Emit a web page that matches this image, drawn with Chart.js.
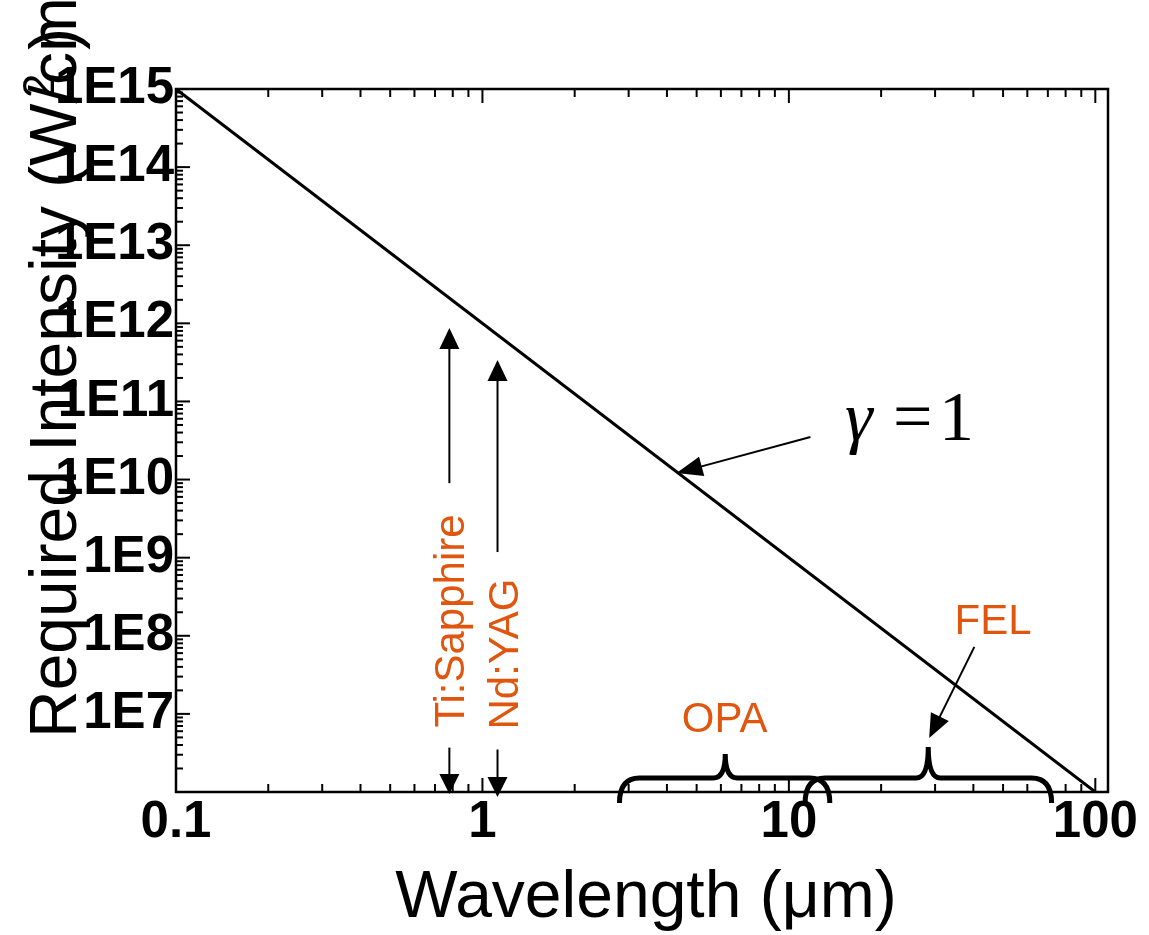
<!DOCTYPE html>
<html><head><meta charset="utf-8">
<script src="https://cdn.jsdelivr.net/npm/chart.js@4.4.1/dist/chart.umd.min.js"></script>
<style>html,body{margin:0;padding:0;background:#fff;}canvas{display:block;}</style>
</head><body>
<canvas id="c" width="1149" height="935"></canvas>
<script>
// ---- data ----
const wavelength = [0.1, 100];
const intensity = [1e15, 1e6];
const xTickValues = [0.1, 1, 10, 100];
const xTickLabels = ['0.1', '1', '10', '100'];
const yTickValues = [1e7, 1e8, 1e9, 1e10, 1e11, 1e12, 1e13, 1e14, 1e15];
const yTickLabels = ['1E7', '1E8', '1E9', '1E10', '1E11', '1E12', '1E13', '1E14', '1E15'];
const xRange = [0.1, 110];
const yRange = [1e6, 1e15];

// annotation anchors (data coordinates)
const laserNames = ['Ti:Sapphire', 'Nd:YAG'];
const laserWavelength = [0.78, 1.12];
const laserArrowTip = [8.7e11, 3.4e11];
const laserArrowBase = [9.0e9, 1.18e9];
const laserLowerStart = [3.7e6, 3.5e6];
const bandNames = ['OPA', 'FEL'];
const bandStart = [2.8, 11.3];
const bandMid = [6.2, 28.5];
const bandEnd = [13.6, 72];
const gammaArrowFrom = [11.76, 3.5e10];
const gammaArrowTo = [4.3, 1.21e10];
const gammaLabelAt = [14.8, 3.2e10];
const felArrowFrom = [40.3, 7.2e7];
const felArrowTo = [28.7, 4.9e6];
const felLabelAt = [46.4, 1.05e8];
const opaLabelAt = [6.17, 5.9e6];

const ORANGE = '#E0560E';
const SANS = "'Liberation Sans', Arial, sans-serif";
const SERIF = "'Liberation Serif', 'Times New Roman', serif";

function findLabel(vals, labels, v) {
  for (let i = 0; i < vals.length; i++) {
    if (Math.abs(Math.log10(v) - Math.log10(vals[i])) < 1e-6) return labels[i];
  }
  return '';
}

function seg(ctx, x1, y1, x2, y2) {
  ctx.beginPath(); ctx.moveTo(x1, y1); ctx.lineTo(x2, y2); ctx.stroke();
}
function arrow(ctx, x1, y1, x2, y2, hl, hw) {
  const dx = x2 - x1, dy = y2 - y1, d = Math.hypot(dx, dy);
  const ux = dx / d, uy = dy / d;
  const bx = x2 - ux * hl, by = y2 - uy * hl;
  seg(ctx, x1, y1, bx + ux * 2, by + uy * 2);
  ctx.beginPath();
  ctx.moveTo(x2, y2);
  ctx.lineTo(bx - uy * hw / 2, by + ux * hw / 2);
  ctx.lineTo(bx + uy * hw / 2, by - ux * hw / 2);
  ctx.closePath(); ctx.fill();
}
function brace(ctx, xl, xm, xr, yBar, yTip, yEnd) {
  const r = 20, r2 = 12;
  ctx.beginPath();
  ctx.moveTo(xl, yEnd);
  ctx.quadraticCurveTo(xl, yBar, xl + r, yBar);
  ctx.lineTo(xm - r2, yBar);
  ctx.quadraticCurveTo(xm, yBar, xm, yTip);
  ctx.moveTo(xm, yTip);
  ctx.quadraticCurveTo(xm, yBar, xm + r2, yBar);
  ctx.lineTo(xr - r, yBar);
  ctx.quadraticCurveTo(xr, yBar, xr, yEnd);
  ctx.stroke();
}

const annot = {
  id: 'annot',
  afterDraw(chart) {
    const { ctx, chartArea: a, scales: { x, y } } = chart;
    const X = v => x.getPixelForValue(v), Y = v => y.getPixelForValue(v);
    ctx.save();
    ctx.strokeStyle = '#000'; ctx.fillStyle = '#000';
    // frame
    ctx.lineWidth = 2.5;
    ctx.strokeRect(a.left, a.top, a.right - a.left, a.bottom - a.top);
    // ticks (inward)
    ctx.lineWidth = 2;
    for (let e = -1; e <= 2; e++) for (let k = 1; k <= 9; k++) {
      const v = k * Math.pow(10, e);
      if (v < xRange[0] * 0.999 || v > xRange[1]) continue;
      const px = X(v), L = k === 1 ? 14 : 8;
      seg(ctx, px, a.bottom, px, a.bottom - L);
      seg(ctx, px, a.top, px, a.top + L);
    }
    for (let e = 6; e <= 15; e++) for (let k = 1; k <= 9; k++) {
      const v = k * Math.pow(10, e);
      if (v > yRange[1] * 1.001) continue;
      const py = Y(v), L = k === 1 ? 14 : 7;
      seg(ctx, a.left, py, a.left + L, py);
    }

    // laser arrows + labels
    ctx.lineWidth = 2;
    const textOff = [15, 20];
    for (let i = 0; i < laserNames.length; i++) {
      const px = X(laserWavelength[i]);
      arrow(ctx, px, Y(laserArrowBase[i]), px, Y(laserArrowTip[i]), 21, 20);
      arrow(ctx, px, Y(laserLowerStart[i]), px, a.bottom + 2 + i * 3, 20, 20);
      ctx.save();
      ctx.translate(px + textOff[i], Y(laserLowerStart[i]) - 20);
      ctx.rotate(-Math.PI / 2);
      ctx.font = '42px ' + SANS; ctx.fillStyle = ORANGE;
      ctx.textAlign = 'left'; ctx.textBaseline = 'alphabetic';
      ctx.fillText(laserNames[i], 0, 0);
      ctx.restore();
    }

    // gamma arrow and label
    arrow(ctx, X(gammaArrowFrom[0]), Y(gammaArrowFrom[1]), X(gammaArrowTo[0]), Y(gammaArrowTo[1]), 26, 20);
    {
      const gx = X(gammaLabelAt[0]), gy = Y(gammaLabelAt[1]);
      ctx.textBaseline = 'alphabetic'; ctx.textAlign = 'left';
      ctx.font = 'italic 70px ' + SERIF;
      ctx.fillText('γ', gx + 4, gy);
      ctx.font = '70px ' + SERIF;
      ctx.fillText('=', gx + 52, gy);
      ctx.fillText('1', gx + 98, gy);
    }

    // FEL arrow
    arrow(ctx, X(felArrowFrom[0]), Y(felArrowFrom[1]), X(felArrowTo[0]), Y(felArrowTo[1]), 24, 20);

    // braces
    ctx.lineWidth = 5;
    const tipOff = [24, 31];
    for (let i = 0; i < bandNames.length; i++) {
      brace(ctx, X(bandStart[i]), X(bandMid[i]), X(bandEnd[i]), a.bottom - 14, a.bottom - 14 - tipOff[i], a.bottom + 11);
    }

    // band labels
    ctx.font = '42px ' + SANS; ctx.fillStyle = ORANGE;
    ctx.textAlign = 'center'; ctx.textBaseline = 'alphabetic';
    ctx.fillText(bandNames[0], X(opaLabelAt[0]), Y(opaLabelAt[1]));
    ctx.fillText(bandNames[1], X(felLabelAt[0]), Y(felLabelAt[1]));

    // axis titles
    ctx.fillStyle = '#000';
    ctx.font = '66px ' + SANS;
    ctx.textAlign = 'center';
    ctx.fillText('Wavelength (μm)', (a.left + a.right) / 2 + 4, 917);

    ctx.save();
    ctx.translate(76, 738);
    ctx.rotate(-Math.PI / 2);
    ctx.textAlign = 'left';
    ctx.font = '66px ' + SANS;
    ctx.fillText('Required Intensity (W/cm', 0, 0);
    ctx.font = '44px ' + SANS;
    ctx.fillText('2', 640, -22);
    ctx.font = '66px ' + SANS;
    ctx.fillText(')', 688, 0);
    ctx.restore();

    ctx.restore();
  }
};

new Chart(document.getElementById('c'), {
  type: 'scatter',
  data: {
    datasets: [{
      data: wavelength.map((w, i) => ({ x: w, y: intensity[i] })),
      showLine: true,
      borderColor: '#000',
      borderWidth: 3,
      pointRadius: 0,
      fill: false
    }]
  },
  options: {
    responsive: false,
    animation: false,
    devicePixelRatio: 1,
    layout: { padding: { top: 89, right: 41, left: 0, bottom: 0 } },
    plugins: { legend: { display: false }, tooltip: { enabled: false } },
    scales: {
      x: {
        type: 'logarithmic', min: xRange[0], max: xRange[1],
        grid: { display: false, drawTicks: false, tickLength: 0 },
        border: { display: false },
        afterFit: s => { s.height = 143; },
        ticks: {
          autoSkip: false, maxRotation: 0, padding: 0, color: '#000',
          font: { family: SANS, size: 51, weight: 'bold' },
          callback: v => findLabel(xTickValues, xTickLabels, v)
        }
      },
      y: {
        type: 'logarithmic', min: yRange[0], max: yRange[1],
        grid: { display: false, drawTicks: false, tickLength: 0 },
        border: { display: false },
        afterFit: s => { s.width = 176; },
        ticks: {
          autoSkip: false, padding: 2, color: '#000',
          font: { family: SANS, size: 51, weight: 'bold' },
          callback: v => findLabel(yTickValues, yTickLabels, v)
        }
      }
    }
  },
  plugins: [annot]
});
</script>
</body></html>
